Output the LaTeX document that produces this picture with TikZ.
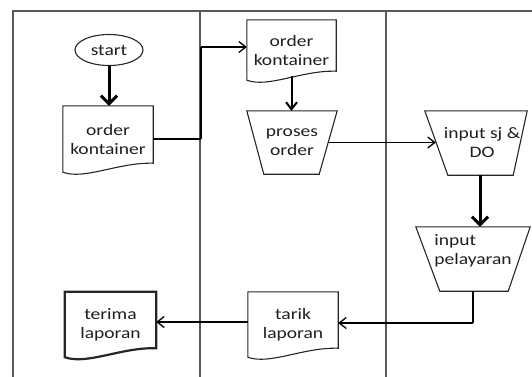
\documentclass[tikz,border=0pt]{standalone}
\usepackage{fontspec}
\setmainfont{Carlito}[FakeStretch=1.22]
\usetikzlibrary{arrows.meta,calc,shapes.geometric}
\newcommand{\mydocoutline}[2][]{\draw[shapeline,#1] (#2.south west) -- (#2.north west) -- (#2.north east) -- ([yshift=9pt]#2.south east) .. controls ([xshift=-35pt,yshift=10pt]#2.south east) and ([xshift=22pt,yshift=-8pt]#2.south west) .. (#2.south west) -- cycle;}
\newcommand{\mytrapoutline}[3]{\draw[shapeline] (#1.north west) -- (#1.north east) -- ([xshift=-#3]#1.south east) -- ([xshift=#2]#1.south west) -- cycle;}
\begin{document}
\begin{tikzpicture}[x=1pt,y=-1pt,
  frame/.style={draw=black!65, line width=1.6pt},
  shapeline/.style={draw=black!85, line width=1.1pt},
  box/.style={draw=none, inner sep=0pt, align=center, font=\fontsize{16}{19}\selectfont, text=black!88},
  conn/.style={draw=black, line width=1.3pt},
  thickconn/.style={draw=black, line width=3pt},
  tip/.style={-{Straight Barb[length=7pt,width=11pt]}},
  bigtip/.style={-{Straight Barb[length=8pt,width=16pt]}}]
\useasboundingbox (0,0) rectangle (532,376);
% swimlane frame
\draw[frame] (13,377) -- (13,11) -- (533,11);
\draw[frame] (200,11) -- (200,377);
\draw[frame] (386,11) -- (386,377);
% nodes
\node[box, ellipse, shapeline, minimum width=68pt, minimum height=31pt] (start) at (109,50) {start};
\node[box, minimum width=90pt, minimum height=66pt] (doc1) at (108,139) {order\\kontainer};
\node[box, minimum width=89pt, minimum height=60pt] (doc2) at (291.5,50) {order\\kontainer};
\node[box, minimum width=90pt, minimum height=63pt] (proses) at (292,142.5) {proses\\order};
\node[box, minimum width=102pt, minimum height=64pt, label={[box,xshift=6pt]center:input sj \&\\DO}] (sj) at (476,143) {};
\node[box, minimum width=114pt, minimum height=64pt, label={[box,align=left,yshift=8pt]center:input\\pelayaran}] (pel) at (473,259) {};
\node[box, minimum width=90pt, minimum height=65pt] (tarik) at (293,324.5) {tarik\\laporan};
\node[box, minimum width=91pt, minimum height=65pt] (terima) at (110.5,324.5) {terima\\laporan};
% outlines
\mydocoutline{doc1}
\mydocoutline{doc2}
\mydocoutline{tarik}
\mydocoutline[line width=2.2pt]{terima}
\mytrapoutline{proses}{17pt}{18pt}
\mytrapoutline{sj}{23pt}{14pt}
\mytrapoutline{pel}{24pt}{22pt}
% connectors
\draw[thickconn, bigtip] (start.south) -- (start.south |- doc1.north);
\coordinate (j1) at ($(doc1.east)+(48,0)$);
\coordinate (d2in) at ([yshift=3pt]doc2.west);
\coordinate (j2) at (j1 |- d2in);
\draw[conn] (doc1.east) -- (j1);
\draw[line width=2.5pt] (j1) -- (j2);
\draw[conn, tip] (j2) -- (d2in);
\coordinate (d2out) at ([yshift=4pt]doc2.south);
\draw[line width=2pt, tip] (d2out) -- (d2out |- proses.north);
\coordinate (pout) at ([xshift=-9pt]proses.east);
\coordinate (sjin) at ([xshift=11pt]sj.west);
\draw[conn, tip] (pout) -- (pout -| sjin);
\coordinate (sjout) at ([xshift=4pt]sj.south);
\draw[thickconn, bigtip] (sjout) -- (sjout |- pel.north);
\coordinate (tin) at ([yshift=1.5pt]tarik.east);
\coordinate (j3) at (pel.south |- tin);
\draw[line width=2.5pt] (pel.south) -- (j3);
\draw[conn, tip] (j3) -- (tin);
\draw[conn, tip] ([yshift=2.5pt]tarik.west) -- ([yshift=2.5pt]terima.east);
\end{tikzpicture}
\end{document}
